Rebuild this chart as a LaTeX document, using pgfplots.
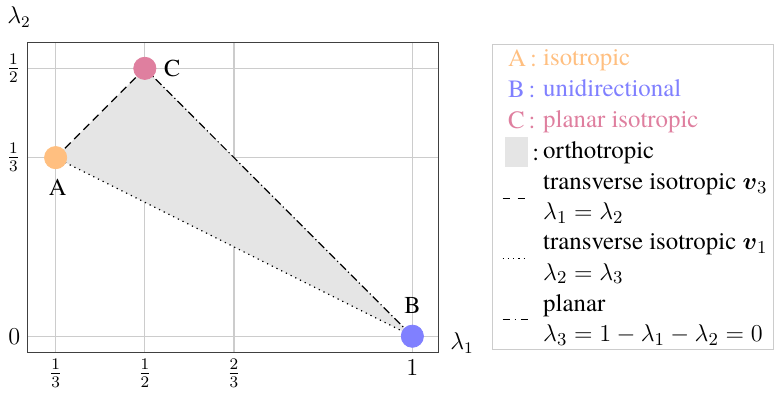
\documentclass[border=0pt]{standalone}
\usepackage{amsmath}
\usepackage{fontspec}
\IfFontExistsTF{TeX Gyre Termes}{\setmainfont{TeX Gyre Termes}}{\setmainfont{Liberation Serif}}
\usepackage{pgfplots}
\pgfplotsset{compat=1.18}

\definecolor{isoA}{RGB}{255,191,128}
\definecolor{uniB}{RGB}{128,128,255}
\definecolor{plaC}{RGB}{223,127,159}
\definecolor{orthoF}{RGB}{229,229,229}
\definecolor{gridgray}{RGB}{204,204,204}
\definecolor{framegray}{RGB}{64,64,64}

% fixed-width frame for every legend image
\newcommand{\legendframe}{\path[draw=none, fill=none] (0pt,0pt) -- (22pt,0pt);}
% second line of a two-line legend entry, with an adjusted depth
\newcommand{\lowerline}[2][-1.3pt]{\raisebox{0pt}[\height][#1]{#2}}

\begin{document}
\begin{tikzpicture}
\begin{axis}[
  scale only axis,
  width=203.5pt, height=153.5pt,
  xmin=0.2804, xmax=1.049,
  ymin=-0.030, ymax=0.549,
  xtick={0.333333,0.5,0.666667,1},
  xticklabels={$\frac13$,$\frac12$,$\frac23$,$1$},
  ytick={0,0.333333,0.5},
  yticklabels={$0$,$\frac13$,$\frac12$},
  grid=major,
  major grid style={gridgray, line width=0.5pt},
  major tick length=0pt,
  axis line style={framegray},
  tick label style={font=\fontsize{12}{14}\selectfont},
  xlabel={$\lambda_1$}, ylabel={$\lambda_2$},
  label style={font=\fontsize{12}{14}\selectfont},
  x label style={at={(axis description cs:1.057,0.03)}, anchor=center},
  y label style={at={(axis description cs:-0.02,1.081)}, rotate=-90, anchor=center},
  legend style={
    at={(axis description cs:1.130,0.995)}, anchor=north west,
    draw=gridgray,
    font=\rmfamily\fontsize{12.3}{15}\selectfont,
    cells={align=left},
    row sep=1.5pt,
    inner xsep=1pt, inner ysep=0.5pt,
  },
  legend cell align=left,
]

% orthotropic region
\addplot[fill=orthoF, draw=none, forget plot]
  coordinates {(0.333333,0.333333) (0.5,0.5) (1,0) (0.333333,0.333333)};

% boundaries
\addplot[black, line width=0.6pt, dash pattern=on 4pt off 2.5pt, forget plot]
  coordinates {(0.333333,0.333333) (0.5,0.5)};
\addplot[black, line width=0.6pt, dotted, forget plot]
  coordinates {(0.333333,0.333333) (1,0)};
\addplot[black, line width=0.6pt, dash pattern=on 4pt off 1.5pt on 0.6pt off 1.5pt, forget plot]
  coordinates {(0.5,0.5) (1,0)};

% special states
\addplot[only marks, mark=*, mark size=5.5pt, color=isoA, forget plot]
  coordinates {(0.333333,0.333333)};
\addplot[only marks, mark=*, mark size=5.5pt, color=uniB, forget plot]
  coordinates {(1,0)};
\addplot[only marks, mark=*, mark size=5.5pt, color=plaC, forget plot]
  coordinates {(0.5,0.5)};

\node[font=\fontsize{12}{14}\selectfont] at (axis cs:0.333333,0.333333) [yshift=-14.5pt, xshift=1pt] {$\mathrm{A}$};
\node[font=\fontsize{12}{14}\selectfont] at (axis cs:1,0) [yshift=15pt] {$\mathrm{B}$};
\node[font=\fontsize{12}{14}\selectfont] at (axis cs:0.5,0.5) [xshift=13.5pt] {$\mathrm{C}$};

% legend
\addlegendimage{legend image code/.code={\legendframe
  \node[text=isoA, inner sep=0pt, anchor=base west] at (6.5pt,-4pt) {A\,:};}}
\addlegendentry{\textcolor{isoA}{isotropic}}
\addlegendimage{legend image code/.code={\legendframe
  \node[text=uniB, inner sep=0pt, anchor=base west] at (6.5pt,-4pt) {B\,:};}}
\addlegendentry{\textcolor{uniB}{unidirectional}}
\addlegendimage{legend image code/.code={\legendframe
  \node[text=plaC, inner sep=0pt, anchor=base west] at (6.5pt,-4pt) {C\,:};}}
\addlegendentry{\textcolor{plaC}{planar isotropic}}
\addlegendimage{legend image code/.code={\legendframe
  \fill[orthoF] (5.5pt,-7pt) rectangle (16.5pt,7pt);
  \node[inner sep=0pt, anchor=base west] at (18.5pt,-4pt) {:};}}
\addlegendentry{orthotropic}
\addlegendimage{legend image code/.code={\legendframe
  \draw[black, line width=0.6pt, dash pattern=on 3.5pt off 4pt] (4pt,0pt) -- (16.5pt,0pt);}}
\addlegendentry{transverse isotropic $\boldsymbol{v}_3$\\\lowerline{$\lambda_1=\lambda_2$}}
\addlegendimage{legend image code/.code={\legendframe
  \draw[black, line width=0.6pt, dotted] (4pt,0pt) -- (16.5pt,0pt);}}
\addlegendentry{transverse isotropic $\boldsymbol{v}_1$\\\lowerline{$\lambda_2=\lambda_3$}}
\addlegendimage{legend image code/.code={\legendframe
  \draw[black, line width=0.6pt, dash pattern=on 3.5pt off 2.5pt on 0.6pt off 2.5pt] (4pt,0pt) -- (16.5pt,0pt);}}
\addlegendentry{planar\\\lowerline[3pt]{$\lambda_3=1-\lambda_1-\lambda_2=0$}}
\end{axis}
\end{tikzpicture}
\end{document}
